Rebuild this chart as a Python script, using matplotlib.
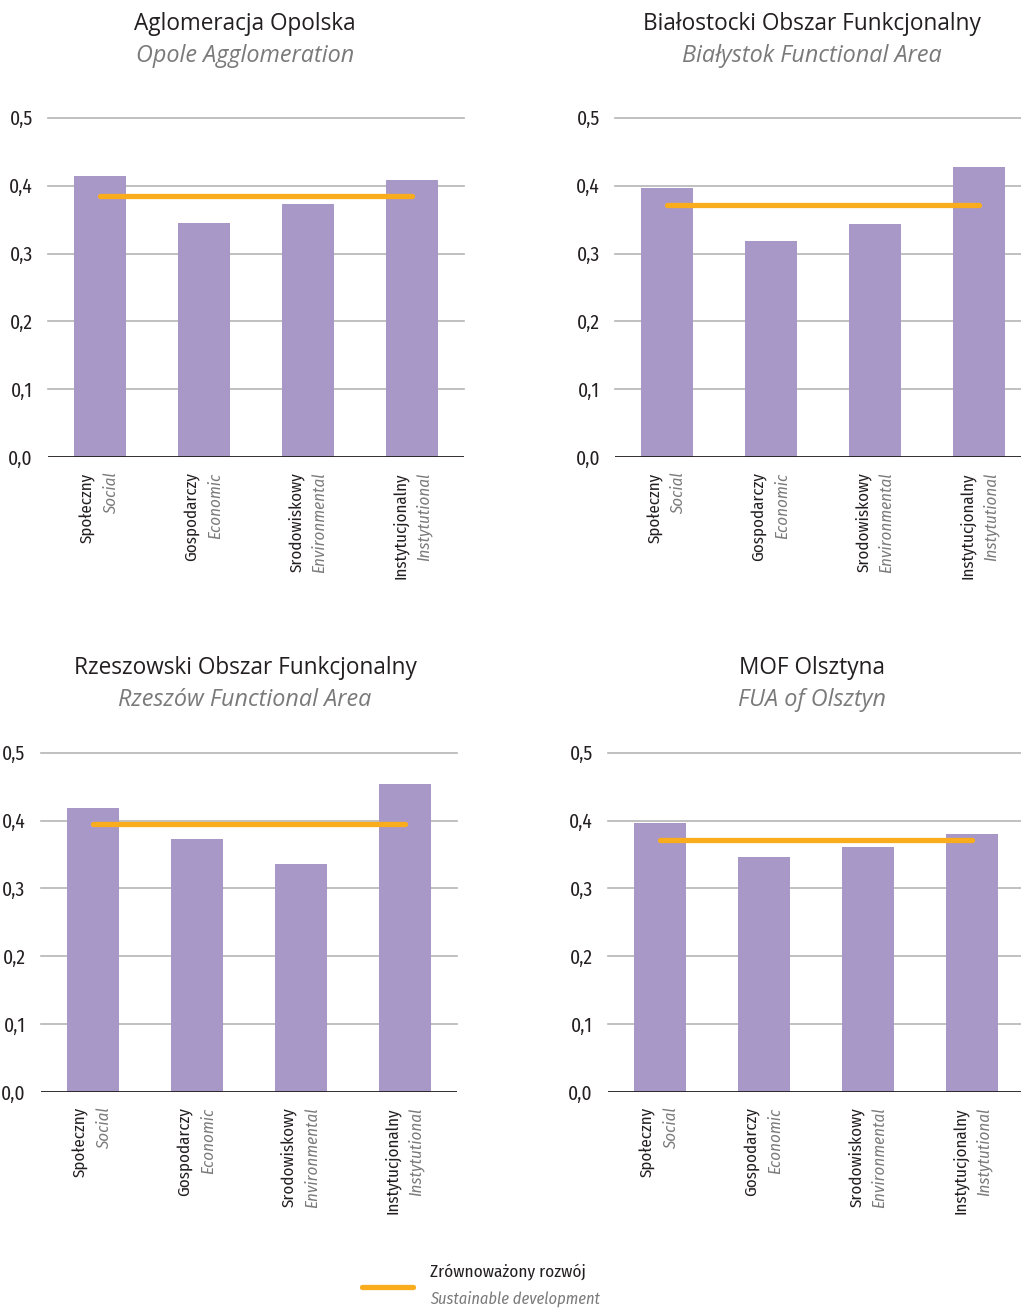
import matplotlib
matplotlib.use('Agg')
import matplotlib.pyplot as plt
from matplotlib.lines import Line2D

# categories (Polish / English)
cats_pl = ['Społeczny', 'Gospodarczy', 'Srodowiskowy', 'Instytucjonalny']
cats_en = ['Social', 'Economic', 'Environmental', 'Instytutional']

titles_pl = ['Aglomeracja Opolska', 'Białostocki Obszar Funkcjonalny',
             'Rzeszowski Obszar Funkcjonalny', 'MOF Olsztyna']
titles_en = ['Opole Agglomeration', 'Białystok Functional Area',
             'Rzeszów Functional Area', 'FUA of Olsztyn']

opole = [0.414, 0.345, 0.373, 0.408]
bialystok = [0.397, 0.319, 0.344, 0.428]
rzeszow = [0.419, 0.373, 0.336, 0.454]
olsztyn = [0.396, 0.346, 0.361, 0.380]
values = [opole, bialystok, rzeszow, olsztyn]

# sustainable development index per area
sustainable = [0.385, 0.372, 0.395, 0.371]

yticks = [0.0, 0.1, 0.2, 0.3, 0.4, 0.5]
ytick_labels = ['0,0', '0,1', '0,2', '0,3', '0,4', '0,5']

BAR = '#a898c8'
ORANGE = '#f9ad1d'
GRID = '#b5b5b5'
DARK = '#231f20'
GREY = '#7a7a7a'
NARROW = ['Fira Sans Condensed', 'DejaVu Sans']
TITLEF = ['Open Sans', 'DejaVu Sans']

W, H = 1021, 1309
fig = plt.figure(figsize=(W / 100, H / 100), dpi=100)

# axes boxes in pixels: left, top, bottom
boxes = [(48, 117.7, 457.3), (615.3, 117.7, 457.3),
         (40.7, 752.7, 1092.0), (608.0, 752.7, 1092.0)]
title_x = [245, 812, 245, 812]
title_y = [24, 668]

for k in range(4):
    l, t, b = boxes[k]
    ax = fig.add_axes([l / W, 1 - b / H, 416 / W, (b - t) / H])
    x = range(4)
    ax.bar(x, values[k], width=0.5, color=BAR, zorder=2)
    ax.plot([0, 3], [sustainable[k]] * 2, color=ORANGE, lw=3.8,
            solid_capstyle='round', zorder=3)
    ax.set_xlim(-0.5, 3.5)
    ax.set_ylim(0, 0.5)
    for y in yticks[1:]:
        ax.axhline(y, color=GRID, lw=1.2, zorder=1, clip_on=False)
    ax.axhline(0, color=DARK, lw=1.3, zorder=4)
    for s in ax.spines.values():
        s.set_visible(False)
    ax.set_xticks([])
    ax.set_yticks(yticks)
    ax.set_yticklabels(ytick_labels, family=NARROW, fontsize=14, color=DARK)
    ax.tick_params(axis='y', length=0, pad=11)
    for i in range(4):
        ax.annotate(cats_pl[i], xy=(i - 0.115, 0), xycoords=('data', 'axes fraction'),
                    xytext=(0, -11), textcoords='offset points', rotation=90,
                    ha='center', va='top', family=NARROW, fontsize=12.2, color=DARK)
        ax.annotate(cats_en[i], xy=(i + 0.11, 0), xycoords=('data', 'axes fraction'),
                    xytext=(0, -11), textcoords='offset points', rotation=90,
                    ha='center', va='top', family=NARROW, style='italic',
                    fontsize=12.2, color=GREY)
    ty = title_y[k // 2]
    fig.text(title_x[k] / W, 1 - ty / H, titles_pl[k], ha='center', va='center',
             family=TITLEF, fontsize=16.3, color=DARK)
    fig.text(title_x[k] / W, 1 - (ty + 32) / H, titles_en[k], ha='center', va='center',
             family=TITLEF, style='italic', fontsize=16.8, color=GREY)

# legend
fig.add_artist(Line2D([362 / W, 413 / W], [1 - 1287 / H] * 2, color=ORANGE, lw=3.8,
                      solid_capstyle='round'))
fig.text(430 / W, 1 - 1272 / H, 'Zrównoważony rozwój', ha='left', va='center',
         family=NARROW, fontsize=12.4, color=DARK)
fig.text(430 / W, 1 - 1299 / H, 'Sustainable development', ha='left', va='center',
         family=NARROW, style='italic', fontsize=11.8, color=GREY)

fig.savefig('out.png', dpi=100)
